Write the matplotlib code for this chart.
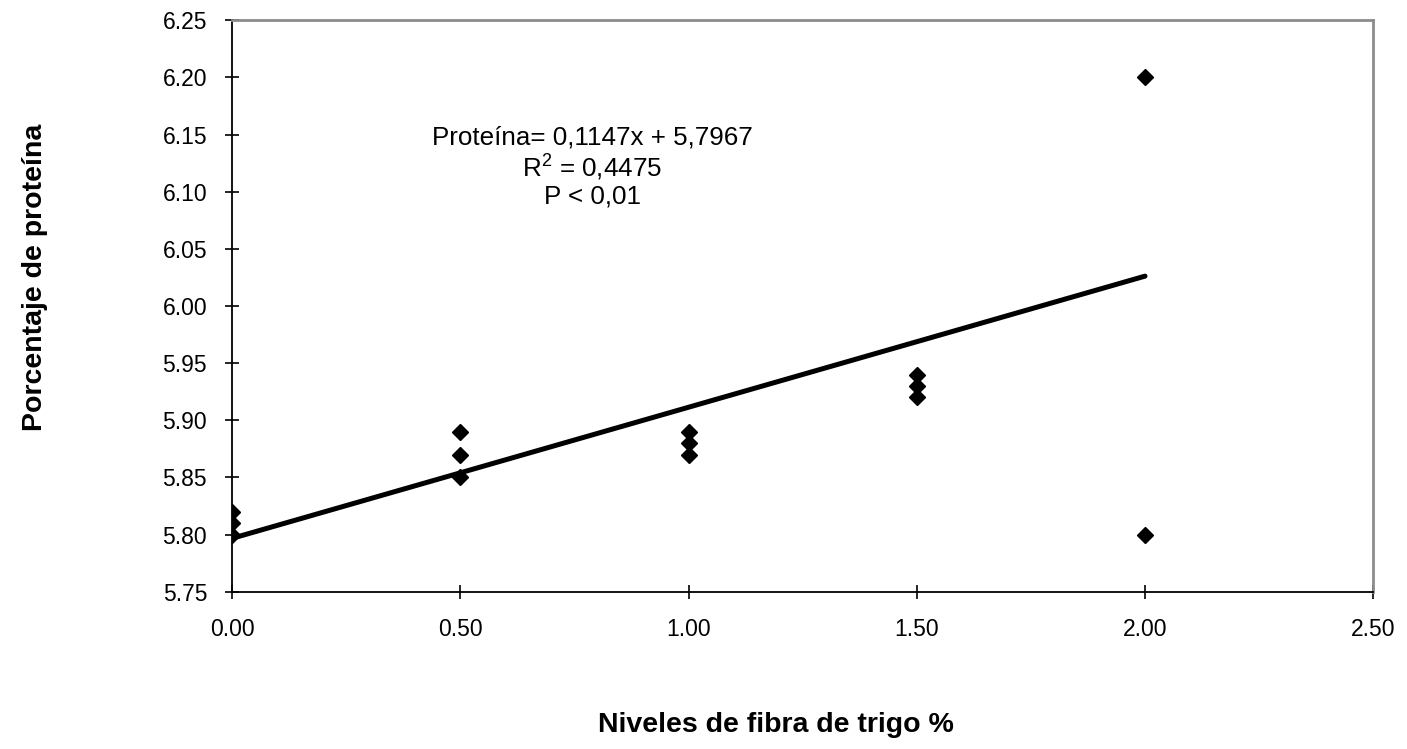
import numpy as np
import matplotlib.pyplot as plt

plt.rcParams['font.family'] = ['Liberation Sans', 'DejaVu Sans']
plt.rcParams['mathtext.fontset'] = 'custom'
plt.rcParams['mathtext.rm'] = 'Liberation Sans'
plt.rcParams['mathtext.it'] = 'Liberation Sans:italic'

# observed values
fibra = [0.0, 0.0, 0.0, 0.5, 0.5, 0.5, 1.0, 1.0, 1.0, 1.5, 1.5, 1.5, 2.0, 2.0]
proteina = [5.80, 5.81, 5.82, 5.85, 5.87, 5.89, 5.87, 5.88, 5.89,
            5.92, 5.93, 5.94, 6.20, 5.80]

# fitted line
pendiente = 0.1147
intercepto = 5.7967
x_fit = [0.0, 2.0]

xticks = [0.0, 0.5, 1.0, 1.5, 2.0, 2.5]
yticks = [5.75, 5.80, 5.85, 5.90, 5.95, 6.00, 6.05, 6.10, 6.15, 6.20, 6.25]

fig = plt.figure(figsize=(14.07, 7.49), dpi=100)
ax = fig.add_axes([0.165, 0.21, 0.811, 0.763])

y_fit = [intercepto + pendiente * x for x in x_fit]
ax.plot(x_fit, y_fit, color='black', lw=3.6, solid_capstyle='round', zorder=2)
ax.plot(fibra, proteina, linestyle='none', marker='D', color='black',
        markersize=8, zorder=3)

ax.set_xlim(0, 2.5)
ax.set_ylim(5.75, 6.25)
ax.set_xticks(xticks)
ax.set_yticks(yticks)
ax.set_xticklabels([f"{v:.2f}" for v in xticks])
ax.set_yticklabels([f"{v:.2f}" for v in yticks])
ax.tick_params(axis='both', direction='inout', length=10, width=1.2,
               labelsize=16.5, colors='black')
ax.tick_params(axis='x', pad=14)
ax.tick_params(axis='y', pad=13)

for s in ['left', 'bottom']:
    ax.spines[s].set_color('black')
    ax.spines[s].set_linewidth(1.3)
for s in ['top', 'right']:
    ax.spines[s].set_color('#8c8c8c')
    ax.spines[s].set_linewidth(2)

ax.text(0.789, 6.1215, "Proteína= 0,1147x + 5,7967\nR$^{2}$ = 0,4475\nP < 0,01",
        ha='center', va='center', fontsize=18.7, linespacing=1.12)

fig.text(776 / 1407, 1 - 725 / 749, "Niveles de fibra de trigo %",
         ha='center', va='center', fontsize=20.5, fontweight='bold')
fig.text(35 / 1407, 1 - 277 / 749, "Porcentaje de proteína", ha='center',
         va='center', rotation=90, fontsize=20.5, fontweight='bold')

fig.savefig("out.png", dpi=100)
